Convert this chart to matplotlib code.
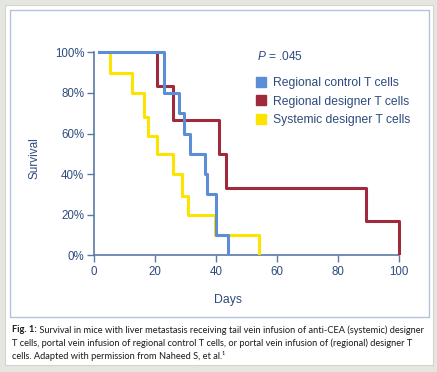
import matplotlib.pyplot as plt
from matplotlib.lines import Line2D
from matplotlib.patches import Rectangle

plt.rcParams['font.family'] = ['Liberation Sans', 'DejaVu Sans']
plt.rcParams['mathtext.fontset'] = 'custom'
plt.rcParams['mathtext.it'] = 'Liberation Sans:italic'
plt.rcParams['mathtext.rm'] = 'Liberation Sans'

# survival curves (days, % surviving)
control_days = [1.5, 23, 28, 29.5, 31.5, 36.3, 37, 40, 44]
control_surv = [100, 80, 70, 60, 50, 40, 30, 10, 1]

designer_days = [20.5, 20.5, 25.8, 40.8, 43.2, 89.1, 100]
designer_surv = [100, 83.3, 66.7, 50, 33.3, 16.7, 1]

systemic_days = [5.3, 5.3, 12.5, 16.5, 17.6, 20.5, 25.8, 28.7, 30.9, 39.5, 54]
systemic_surv = [100, 90, 80, 68, 59, 50, 40, 29, 20, 10, 1]

labels = ['Regional control T cells', 'Regional designer T cells', 'Systemic designer T cells']
colors = ['#5b8ed6', '#9e2a3c', '#fce300']
xticks = [0, 20, 40, 60, 80, 100]
yticks = [0, 20, 40, 60, 80, 100]
ytick_labels = ['0%', '20%', '40%', '60%', '80%', '100%']
p_value = '.045'

caption_bold = 'Fig. 1:'
caption_lines = [
    ' Survival in mice with liver metastasis receiving tail vein infusion of anti-CEA (systemic) designer',
    'T cells, portal vein infusion of regional control T cells, or portal vein infusion of (regional) designer T',
    'cells. Adapted with permission from Naheed S, et al.\u00b9',
]

W, H = 437, 372
txt = '#2d4b7f'
axcol = '#5b79a6'

fig = plt.figure(figsize=(W / 100, H / 100), dpi=100, facecolor='#e6e6e1')

# card and inner frame
fig.patches.append(Rectangle((5 / W, 1 - 365 / H), 428 / W, 360 / H, transform=fig.transFigure,
                             facecolor='white', edgecolor='#d4d4ce', lw=0.8, zorder=-5))
fig.patches.append(Rectangle((10 / W, 1 - 317 / H), 419 / W, 307 / H, transform=fig.transFigure,
                             facecolor='none', edgecolor='#b3c4da', lw=1.0, zorder=-4))

ax = fig.add_axes([94 / W, 1 - 255.3 / H, 305.3 / W, 203 / H])
ax.set_zorder(2)
ax.set_facecolor('none')

ax.step(systemic_days, systemic_surv, where='post', color=colors[2], lw=2.2, clip_on=False, zorder=3)
ax.step(designer_days, designer_surv, where='post', color=colors[1], lw=2.2, clip_on=False, zorder=4)
ax.step(control_days, control_surv, where='post', color=colors[0], lw=2.2, clip_on=False, zorder=5)

ax.set_xlim(0, 100)
ax.set_ylim(0, 100)
ax.set_xticks(xticks)
ax.set_yticks(yticks)
ax.set_yticklabels(ytick_labels)
for s in ['top', 'right']:
    ax.spines[s].set_visible(False)
for s in ['left', 'bottom']:
    ax.spines[s].set_color(axcol)
    ax.spines[s].set_linewidth(1.2)
ax.tick_params(axis='both', colors=axcol, labelcolor=txt, labelsize=8.3, length=5, width=1, direction='out')
ax.tick_params(axis='x', pad=3)
ax.tick_params(axis='y', pad=2)

fig.text(35 / W, 1 - 158 / H, 'Survival', rotation=90, ha='center', va='center', color=txt, fontsize=8.5)
fig.text(228 / W, 1 - 300 / H, 'Days', ha='center', va='center', color=txt, fontsize=8.8)
fig.text(257 / W, 1 - 56 / H, r'$P$ = ' + p_value, ha='left', va='center', color=txt, fontsize=8.6)

handles = [Line2D([], [], ls='none', marker='s', markersize=7, color=c) for c in colors]
leg = ax.legend(handles, labels, loc='upper left', bbox_to_anchor=(255 / W, 1 - 77 / H),
                bbox_transform=fig.transFigure, frameon=False, fontsize=8.7, handlelength=1.0,
                handletextpad=0.45, borderpad=0, borderaxespad=0, labelspacing=0.55)
for t in leg.get_texts():
    t.set_color(txt)

# caption
cap_font = ['Lato', 'DejaVu Sans']
cap_size = 6.7
y0 = 330
b = fig.text(12 / W, 1 - y0 / H, caption_bold, ha='left', va='center', fontsize=cap_size,
             fontweight='bold', family=cap_font, color='#1a1a1a')
fig.canvas.draw()
bb = b.get_window_extent()
fig.text(bb.x1 / W, 1 - y0 / H, caption_lines[0], ha='left', va='center', fontsize=cap_size,
         family=cap_font, color='#1a1a1a')
for i, line in enumerate(caption_lines[1:]):
    fig.text(12 / W, 1 - (y0 + 13 * (i + 1)) / H, line, ha='left', va='center', fontsize=cap_size,
             family=cap_font, color='#1a1a1a')

fig.savefig('out.png', dpi=100, facecolor=fig.get_facecolor())
